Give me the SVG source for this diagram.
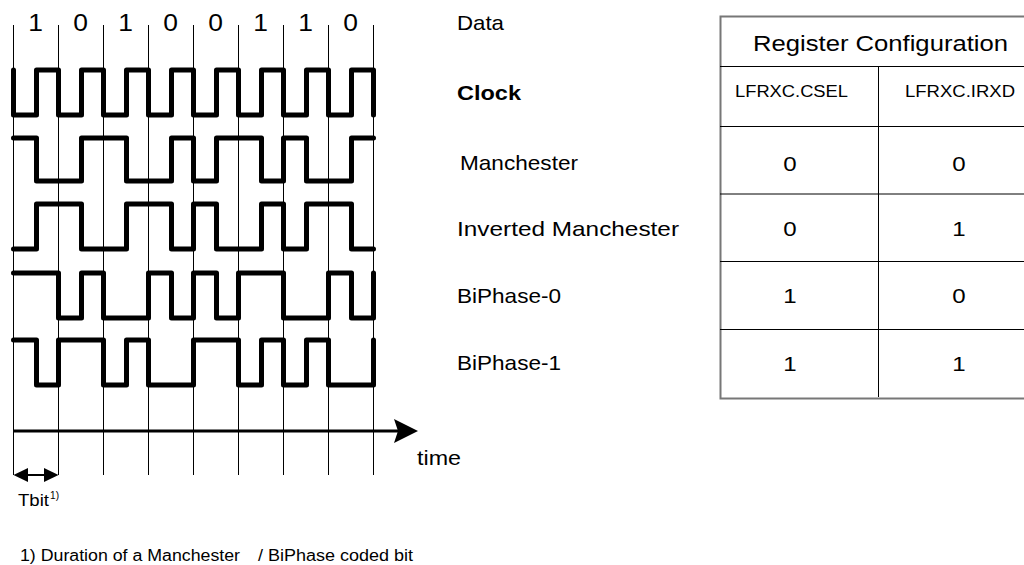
<svg xmlns="http://www.w3.org/2000/svg" width="1024" height="565" viewBox="0 0 1024 565">
<style>
text{font-family:"Liberation Sans",Arial,sans-serif;fill:#000}
.grid{stroke:#000;stroke-width:1;fill:none}
.wave{stroke:#000;stroke-width:5;fill:none;stroke-linejoin:round;stroke-linecap:round}
.lbl{font-size:21px}
.dig{font-size:23px}
.tb{stroke:#000;stroke-width:1;fill:none}
.val{font-size:21px}
.reg{font-size:16px}
</style>
<rect width="1024" height="565" fill="#fff"/>
<g id="grid">
<path class="grid" d="M13.5,25V475M58.5,25V475M103.5,25V475M148.5,25V475M193.5,25V475M238.5,25V475M283.5,25V475M328.5,25V475M373.5,25V475"/>
</g>
<g id="data">
<text class="dig" x="28.2" y="31" textLength="14.7" lengthAdjust="spacingAndGlyphs">1</text>
<text class="dig" x="73.2" y="31" textLength="14.7" lengthAdjust="spacingAndGlyphs">0</text>
<text class="dig" x="118.2" y="31" textLength="14.7" lengthAdjust="spacingAndGlyphs">1</text>
<text class="dig" x="163.2" y="31" textLength="14.7" lengthAdjust="spacingAndGlyphs">0</text>
<text class="dig" x="208.2" y="31" textLength="14.7" lengthAdjust="spacingAndGlyphs">0</text>
<text class="dig" x="253.2" y="31" textLength="14.7" lengthAdjust="spacingAndGlyphs">1</text>
<text class="dig" x="298.2" y="31" textLength="14.7" lengthAdjust="spacingAndGlyphs">1</text>
<text class="dig" x="343.2" y="31" textLength="14.7" lengthAdjust="spacingAndGlyphs">0</text>
<text class="lbl" x="457" y="30" textLength="47" lengthAdjust="spacingAndGlyphs">Data</text>
</g>
<g id="clock">
<path class="wave" d="M13.5,70V115H36.5V70H58.5V115H81.5V70H103.5V115H126.5V70H148.5V115H171.5V70H193.5V115H216.5V70H238.5V115H261.5V70H283.5V115H306.5V70H328.5V115H351.5V70H373.5V115"/>
<text class="lbl" x="457" y="100" font-weight="bold" textLength="64" lengthAdjust="spacingAndGlyphs">Clock</text>
</g>
<g id="manchester">
<path class="wave" d="M13.5,138H36.5V181H81.5V138H126.5V181H171.5V138H193.5V181H216.5V138H261.5V181H283.5V138H306.5V181H351.5V138H373.5"/>
<text class="lbl" x="460" y="170" textLength="118" lengthAdjust="spacingAndGlyphs">Manchester</text>
</g>
<g id="inverted-manchester">
<path class="wave" d="M13.5,249H36.5V204H81.5V249H126.5V204H171.5V249H193.5V204H216.5V249H261.5V204H283.5V249H306.5V204H351.5V249H373.5"/>
<text class="lbl" x="457" y="236" textLength="222" lengthAdjust="spacingAndGlyphs">Inverted Manchester</text>
</g>
<g id="biphase-0">
<path class="wave" d="M13.5,273H58.5V318H81.5V273H103.5V318H148.5V273H171.5V318H193.5V273H216.5V318H238.5V273H283.5V318H328.5V273H351.5V318H373.5V273"/>
<text class="lbl" x="457" y="303" textLength="104" lengthAdjust="spacingAndGlyphs">BiPhase-0</text>
</g>
<g id="biphase-1">
<path class="wave" d="M13.5,340H36.5V385H58.5V340H103.5V385H126.5V340H148.5V385H193.5V340H238.5V385H261.5V340H283.5V385H306.5V340H328.5V385H373.5V340"/>
<text class="lbl" x="457" y="370" textLength="104" lengthAdjust="spacingAndGlyphs">BiPhase-1</text>
</g>
<g id="connectors">
<line x1="13.5" y1="431" x2="400" y2="431" stroke="#000" stroke-width="3"/>
<polygon points="394,419 418,431 394,443 398,431" fill="#000"/>
<line x1="22" y1="475" x2="50" y2="475" stroke="#000" stroke-width="2"/>
<polygon points="13.5,475 28,468 28,482" fill="#000"/>
<polygon points="58.5,475 44,468 44,482" fill="#000"/>
</g>
<g id="axis-labels">
<text class="lbl" x="417" y="465" textLength="44" lengthAdjust="spacingAndGlyphs">time</text>
<text x="18" y="506" font-size="17" textLength="31" lengthAdjust="spacingAndGlyphs">Tbit</text>
<text x="50" y="499" font-size="11" textLength="9" lengthAdjust="spacingAndGlyphs">1)</text>
<text x="20" y="561" font-size="16" textLength="220" lengthAdjust="spacingAndGlyphs">1) Duration of a Manchester</text>
<text x="258" y="561" font-size="16" textLength="155" lengthAdjust="spacingAndGlyphs">/ BiPhase coded bit</text>
</g>
<g id="table">
<rect x="720.5" y="16.5" width="340" height="382" fill="none" stroke="#777" stroke-width="2"/>
<path class="tb" d="M720,66.5H1024M720,126.5H1024M720,194H1024M720,261.5H1024M720,329.5H1024M878.5,66.5V397"/>
<text x="753" y="51" font-size="22" textLength="255" lengthAdjust="spacingAndGlyphs">Register Configuration</text>
<text class="reg" x="735" y="97" textLength="113" lengthAdjust="spacingAndGlyphs">LFRXC.CSEL</text>
<text class="reg" x="905" y="97" textLength="110" lengthAdjust="spacingAndGlyphs">LFRXC.IRXD</text>
<text class="val" x="783.3" y="171" textLength="13.4" lengthAdjust="spacingAndGlyphs">0</text>
<text class="val" x="952.3" y="171" textLength="13.4" lengthAdjust="spacingAndGlyphs">0</text>
<text class="val" x="783.3" y="236" textLength="13.4" lengthAdjust="spacingAndGlyphs">0</text>
<text class="val" x="952.3" y="236" textLength="13.4" lengthAdjust="spacingAndGlyphs">1</text>
<text class="val" x="783.3" y="303" textLength="13.4" lengthAdjust="spacingAndGlyphs">1</text>
<text class="val" x="952.3" y="303" textLength="13.4" lengthAdjust="spacingAndGlyphs">0</text>
<text class="val" x="783.3" y="371" textLength="13.4" lengthAdjust="spacingAndGlyphs">1</text>
<text class="val" x="952.3" y="371" textLength="13.4" lengthAdjust="spacingAndGlyphs">1</text>
</g>
</svg>
